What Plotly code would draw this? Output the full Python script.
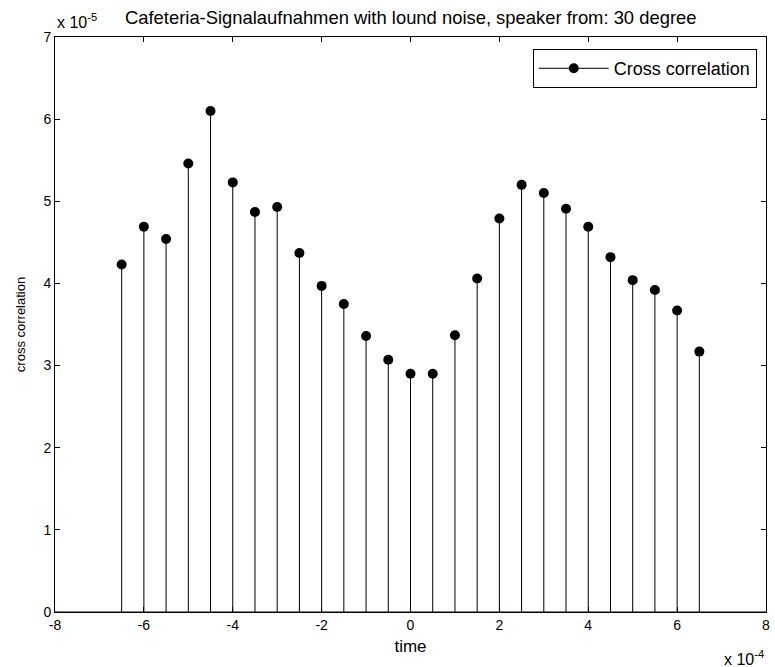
import plotly.graph_objects as go

# time in units of 1e-4 s
time_e4 = [-6.5, -6.0, -5.5, -5.0, -4.5, -4.0, -3.5, -3.0, -2.5, -2.0, -1.5, -1.0, -0.5,
           0.0, 0.5, 1.0, 1.5, 2.0, 2.5, 3.0, 3.5, 4.0, 4.5, 5.0, 5.5, 6.0, 6.5]
# cross correlation in units of 1e-5
xcorr_e5 = [4.23, 4.69, 4.54, 5.46, 6.10, 5.23, 4.87, 4.93, 4.37, 3.97, 3.75, 3.36, 3.07,
            2.90, 2.90, 3.37, 4.06, 4.79, 5.20, 5.10, 4.91, 4.69, 4.32, 4.04, 3.92, 3.67, 3.17]
x_ticks = [-8, -6, -4, -2, 0, 2, 4, 6, 8]
y_ticks = [0, 1, 2, 3, 4, 5, 6, 7]

FONT = "Liberation Sans, Arial, sans-serif"

stem_x, stem_y = [], []
for t, v in zip(time_e4, xcorr_e5):
    stem_x += [t, t, None]
    stem_y += [0, v, None]

fig = go.Figure()
# baseline
fig.add_trace(go.Scatter(x=[-8, 8], y=[0, 0], mode="lines",
                         line=dict(color="black", width=1), showlegend=False, hoverinfo="skip"))
fig.add_trace(go.Scatter(x=stem_x, y=stem_y, mode="lines",
                         line=dict(color="black", width=1), showlegend=False, hoverinfo="skip"))
fig.add_trace(go.Scatter(x=time_e4, y=xcorr_e5, mode="markers",
                         marker=dict(color="black", size=10), showlegend=False))
fig.add_trace(go.Scatter(x=[None], y=[None], mode="lines+markers", name="Cross correlation",
                         line=dict(color="black", width=1), marker=dict(color="black", size=10)))

axis_common = dict(showgrid=False, zeroline=False, showline=True, linecolor="black", linewidth=1,
                   mirror="ticks", ticks="inside", ticklen=5, tickcolor="black",
                   tickfont=dict(family=FONT, size=14, color="black"))
fig.update_xaxes(range=[-8, 8], tickvals=x_ticks, ticktext=[str(v) for v in x_ticks],
                 title=dict(text="time", font=dict(family=FONT, size=17, color="black"), standoff=8),
                 **axis_common)
fig.update_yaxes(range=[0, 7], tickvals=y_ticks, ticktext=[str(v) for v in y_ticks],
                 title=dict(text="cross correlation", font=dict(family=FONT, size=13, color="black"), standoff=14),
                 **axis_common)

fig.update_layout(
    width=775, height=667,
    margin=dict(l=55, r=5, t=37, b=55),
    paper_bgcolor="white", plot_bgcolor="white",
    font=dict(family=FONT, size=14, color="black"),
    title=dict(text="Cafeteria-Signalaufnahmen with lound noise, speaker from: 30 degree",
               x=0.53, xanchor="center", y=0.973, yanchor="middle",
               font=dict(family=FONT, size=18.4, color="black")),
    legend=dict(x=0.987, y=0.979, xanchor="right", yanchor="top", bgcolor="white",
                bordercolor="black", borderwidth=1, itemwidth=70,
                font=dict(family=FONT, size=18, color="black")),
    annotations=[
        dict(text="x 10<sup>-5</sup>", xref="paper", yref="paper", x=0.0, y=1.0,
             xanchor="left", yanchor="bottom", showarrow=False, yshift=4,
             font=dict(family=FONT, size=16, color="black")),
        dict(text="x 10<sup>-4</sup>", xref="paper", yref="paper", x=1.0, y=0.0,
             xanchor="right", yanchor="top", showarrow=False, yshift=-34,
             font=dict(family=FONT, size=16, color="black")),
    ],
)

fig.write_html("out.html")
